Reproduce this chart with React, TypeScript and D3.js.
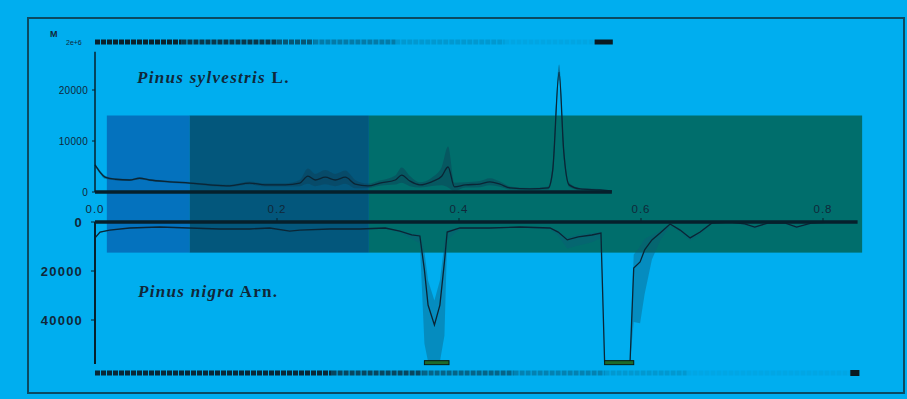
import React from "react";
import * as d3 from "d3";

// ---- data ----
const xTicks = [0, 0.2, 0.4, 0.6, 0.8];
const xTickLabels = ["0.0", "0.2", "0.4", "0.6", "0.8"];
const topTicks = [0, 10000, 20000];
const topTickLabels = ["0", "10000", "20000"];
const botTicks = [0, 20000, 40000];
const botTickLabels = ["0", "20000", "40000"];

// background spans (x start, x end)
const spanStart = [0.013, 0.104, 0.301];
const spanEnd = [0.104, 0.301, 0.843];
const spanColors = ["#0472BE", "#03577C", "#006E6C"];

// Pinus sylvestris (top)
const topX = [0, 0.0055, 0.011, 0.022, 0.038, 0.049, 0.06, 0.082, 0.104, 0.126, 0.148, 0.17, 0.187, 0.209, 0.225, 0.234, 0.242, 0.253, 0.264, 0.275, 0.286, 0.3, 0.313, 0.33, 0.337, 0.346, 0.357, 0.37, 0.381, 0.388, 0.395, 0.407, 0.423, 0.434, 0.445, 0.456, 0.478, 0.498, 0.503, 0.51, 0.515, 0.521, 0.533, 0.555, 0.568];
const topY = [5300, 3900, 2900, 2500, 2350, 2700, 2350, 2000, 1750, 1400, 1200, 1750, 1400, 1400, 1750, 3100, 2350, 2900, 2350, 2900, 1550, 1200, 1750, 2350, 3300, 2150, 1400, 2000, 3100, 4900, 1000, 1400, 1550, 2000, 1550, 800, 600, 800, 4300, 23500, 8200, 1400, 600, 400, 200];
const topSpread = [300, 300, 300, 200, 200, 200, 200, 200, 200, 200, 200, 300, 300, 300, 600, 1500, 1200, 1400, 1200, 1300, 800, 400, 500, 900, 1500, 1000, 500, 800, 1800, 4000, 800, 500, 600, 700, 500, 300, 200, 300, 1200, 1500, 1500, 400, 200, 200, 100];

// Pinus nigra (bottom, plotted downward)
const botX = [0, 0.0055, 0.016, 0.038, 0.071, 0.104, 0.137, 0.17, 0.192, 0.214, 0.225, 0.258, 0.291, 0.319, 0.335, 0.348, 0.357, 0.362, 0.366, 0.373, 0.379, 0.384, 0.387, 0.401, 0.434, 0.467, 0.5, 0.509, 0.519, 0.531, 0.546, 0.556, 0.56, 0.588, 0.592, 0.599, 0.604, 0.612, 0.621, 0.632, 0.643, 0.654, 0.665, 0.678, 0.698, 0.714, 0.725, 0.74, 0.758, 0.771, 0.788, 0.808, 0.836];
const botY = [6500, 4100, 3300, 2450, 2050, 2450, 2850, 2850, 2450, 3700, 3300, 2850, 2850, 2450, 3700, 5300, 5700, 19600, 33900, 42000, 33900, 16300, 4100, 2450, 2450, 2050, 2450, 4100, 7300, 6100, 5300, 4500, 57000, 57000, 18800, 16300, 11400, 7300, 4500, 800, 3300, 6500, 4100, 400, 0, 800, 2050, 400, 400, 2050, 400, 0, 0];
const botSpread = [400, 300, 300, 200, 200, 200, 300, 300, 300, 500, 400, 300, 300, 300, 600, 1500, 3000, 30000, 40000, 40000, 40000, 30000, 3000, 400, 300, 300, 500, 1500, 3500, 3500, 3000, 2000, 0, 0, 22000, 25000, 18000, 8000, 3000, 600, 800, 1200, 800, 300, 200, 400, 600, 300, 300, 500, 300, 100, 0];

// clipped extents (x start, x end)
const clipStart = [0.362, 0.56];
const clipEnd = [0.389, 0.592];

// rugs (x start, x end, darkness)
const rugTopStart = [0.0, 0.095, 0.2, 0.24, 0.33, 0.45];
const rugTopEnd = [0.095, 0.2, 0.24, 0.33, 0.45, 0.549];
const rugTopAlpha = [0.95, 0.8, 0.6, 0.35, 0.15, 0.06];
const rugBotStart = [0.0, 0.26, 0.36, 0.46, 0.56, 0.65];
const rugBotEnd = [0.26, 0.36, 0.46, 0.56, 0.65, 0.83];
const rugBotAlpha = [0.9, 0.7, 0.5, 0.3, 0.15, 0.05];

export default function App() {
  const W = 907, H = 399;
  const x = d3.scaleLinear().domain([0, 0.8]).range([95, 823]);
  const yT = d3.scaleLinear().domain([0, 20000]).range([192, 90]);
  const yB = d3.scaleLinear().domain([0, 40000]).range([222, 320]);
  const clipMax = 57000;

  const topData = topX.map((v, i) => ({ x: v, y: topY[i], s: topSpread[i] }));
  const botData = botX.map((v, i) => ({ x: v, y: botY[i], s: botSpread[i] }));

  const topLine = d3.line<any>().x(d => x(d.x)).y(d => yT(d.y)).curve(d3.curveMonotoneX);
  const topArea = d3.area<any>().x(d => x(d.x))
    .y0(d => yT(Math.max(0, d.y - d.s))).y1(d => yT(d.y + d.s)).curve(d3.curveMonotoneX);
  const botLine = d3.line<any>().x(d => x(d.x)).y(d => yB(Math.min(clipMax, d.y))).curve(d3.curveLinear);
  const botArea = d3.area<any>().x(d => x(d.x))
    .y0(d => yB(Math.max(0, d.y - d.s * 0.25))).y1(d => yB(Math.min(clipMax, d.y + d.s))).curve(d3.curveLinear);

  const lineColor = "#0a2535";
  const textColor = "#10283a";

  return (
    <svg width={W} height={H} style={{ position: "absolute", left: 0, top: 0 }}
      fontFamily="Liberation Sans, Arial, sans-serif">
      <rect x={0} y={0} width={W} height={H} fill="#00AEEF" />
      <rect x={28} y={18} width={876} height={375} fill="none" stroke="#0b4a62" strokeWidth={2} />

      {/* spans */}
      {spanStart.map((s, i) => (
        <rect key={"sp" + i} x={x(s)} y={yT(15000)} width={x(spanEnd[i]) - x(s)}
          height={yB(12500) - yT(15000)} fill={spanColors[i]} />
      ))}

      {/* top rug */}
      <text x={50} y={37} fontSize={9} fontWeight="bold" fill={textColor}>M</text>
      <text x={66} y={45} fontSize={7} fill={textColor}>2e+6</text>
      {rugTopStart.map((s, i) => (
        <line key={"rt" + i} x1={x(s)} x2={x(rugTopEnd[i])} y1={42} y2={42}
          stroke="#0a1a22" strokeOpacity={rugTopAlpha[i]} strokeWidth={5} strokeDasharray="5,1" />
      ))}
      <rect x={x(0.549)} y={39.5} width={x(0.569) - x(0.549)} height={5} fill="#0a1a22" />

      {/* top panel */}
      <path d={topArea(topData) || ""} fill="#0d3f55" fillOpacity={0.45} />
      <path d={topLine(topData) || ""} fill="none" stroke={lineColor} strokeWidth={1.3} />
      <line x1={x(0)} x2={x(0.568)} y1={yT(0)} y2={yT(0)} stroke="#06202c" strokeWidth={3.5} />
      <line x1={x(0)} x2={x(0)} y1={yT(27500)} y2={yT(0)} stroke="#06202c" strokeWidth={1.5} />
      {topTicks.map((t, i) => (
        <g key={"tt" + i}>
          <line x1={x(0) - 3} x2={x(0)} y1={yT(t)} y2={yT(t)} stroke="#06202c" strokeWidth={1} />
          <text x={x(0) - 7} y={yT(t)} dy="0.35em" textAnchor="end" fontSize={10} fill={textColor}
            letterSpacing={0.3}>{topTickLabels[i]}</text>
        </g>
      ))}
      <text x={137} y={83} fontFamily="Liberation Serif, Times New Roman, serif" fontSize={17}
        fontWeight="bold" fill={textColor} letterSpacing={1.3}>
        <tspan fontStyle="italic">Pinus sylvestris</tspan> L.
      </text>

      {/* x tick labels */}
      {xTicks.map((t, i) => (
        <text key={"xl" + i} x={x(t)} y={209} dy="0.35em" textAnchor="middle" fontSize={11.5}
          fill={textColor} letterSpacing={1}>{xTickLabels[i]}</text>
      ))}

      {/* bottom panel */}
      <path d={botArea(botData) || ""} fill="#0d5a78" fillOpacity={0.4} />
      <path d={botLine(botData) || ""} fill="none" stroke={lineColor} strokeWidth={1.3} />
      {clipStart.map((s, i) => (
        <rect key={"cl" + i} x={x(s)} y={yB(clipMax) - 1} width={x(clipEnd[i]) - x(s)} height={4}
          fill="#1d6b2c" stroke="#0a1a10" strokeWidth={1} />
      ))}
      <line x1={x(0)} x2={x(0.838)} y1={yB(0)} y2={yB(0)} stroke="#06202c" strokeWidth={3.5} />
      {xTicks.slice(1).map((t, i) => (
        <line key={"xt" + i} x1={x(t)} x2={x(t)} y1={yB(0) - 4} y2={yB(0)} stroke="#06202c" strokeWidth={1} />
      ))}
      <line x1={x(0)} x2={x(0)} y1={yB(0)} y2={yB(58000)} stroke="#06202c" strokeWidth={2} />
      {botTicks.map((t, i) => (
        <g key={"bt" + i}>
          <line x1={x(0) - 4} x2={x(0)} y1={yB(t)} y2={yB(t)} stroke="#06202c" strokeWidth={1} />
          <text x={x(0) - 12} y={yB(t)} dy="0.35em" textAnchor="end" fontSize={13} fontWeight="bold"
            fill={textColor} letterSpacing={1.2}>{botTickLabels[i]}</text>
        </g>
      ))}
      <text x={138} y={297} fontFamily="Liberation Serif, Times New Roman, serif" fontSize={17}
        fontWeight="bold" fill={textColor} letterSpacing={1.3}>
        <tspan fontStyle="italic">Pinus nigra</tspan> Arn.
      </text>

      {/* bottom rug */}
      {rugBotStart.map((s, i) => (
        <line key={"rb" + i} x1={x(s)} x2={x(rugBotEnd[i])} y1={373} y2={373}
          stroke="#0a1a22" strokeOpacity={rugBotAlpha[i]} strokeWidth={5} strokeDasharray="5,1" />
      ))}
      <rect x={x(0.83)} y={370} width={x(0.84) - x(0.83)} height={6} fill="#0a1a22" />
    </svg>
  );
}
